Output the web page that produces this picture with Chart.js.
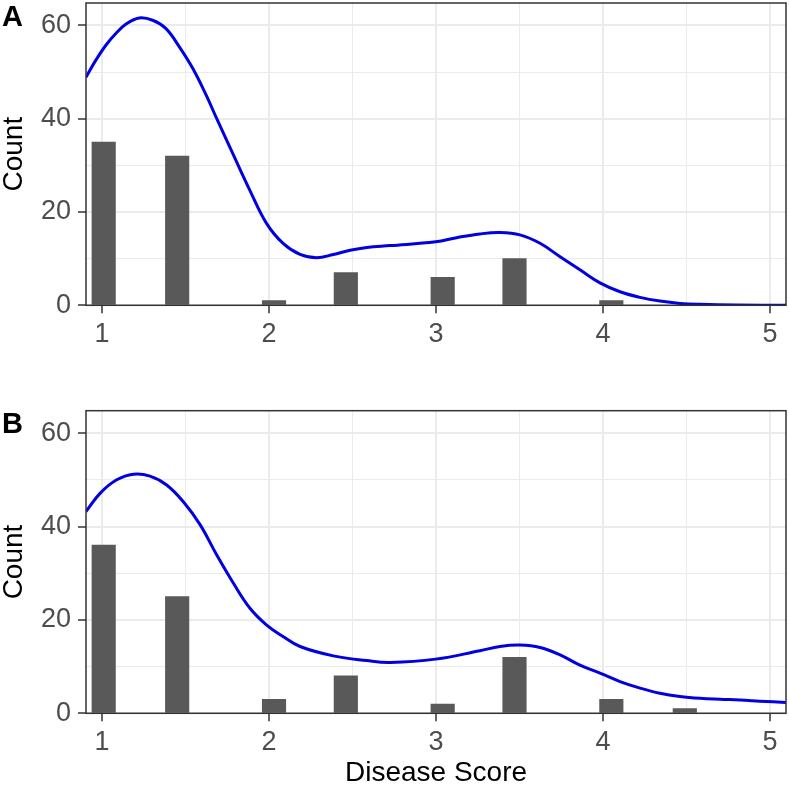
<!DOCTYPE html>
<html>
<head>
<meta charset="utf-8">
<script src="https://cdn.jsdelivr.net/npm/chart.js@4"></script>
<style>
  body { margin: 0; background: #fff; width: 789px; height: 788px; position: relative; overflow: hidden; }
  .panell { position: absolute; left: 0; width: 789px; }
</style>
</head>
<body>
<div class="panell" style="top:0;height:355px"><canvas id="grafA"></canvas></div>
<div class="panell" style="top:365px;height:423px"><canvas id="grafB"></canvas></div>
<script>
// eixos
const xTicks = [1, 1.5, 2, 2.5, 3, 3.5, 4, 4.5, 5];
const xLabels = [1, 2, 3, 4, 5];
const yTicks = [0, 10, 20, 30, 40, 50, 60];
const yLabels = [0, 20, 40, 60];

// histograma A i B
const binsA = [1.01, 1.45, 2.03, 2.46, 3.04, 3.47, 4.05];
const countsA = [35, 32, 1, 7, 6, 10, 1];
const binsB = [1.01, 1.45, 2.03, 2.46, 3.04, 3.47, 4.05, 4.49];
const countsB = [36, 25, 3, 8, 2, 12, 3, 1];

// corba de densitat (escalada a comptes)
const densXA = [0.904, 0.964, 1.024, 1.084, 1.144, 1.223, 1.303, 1.383, 1.463, 1.543, 1.623, 1.687, 1.786, 1.886, 1.986, 2.086, 2.186, 2.285, 2.385, 2.485, 2.585, 2.725, 2.998, 3.124, 3.263, 3.383, 3.503, 3.623, 3.743, 3.862, 3.982, 4.102, 4.222, 4.341, 4.461, 4.581, 4.8, 5.096];
const densYA = [48.9, 52.6, 55.8, 58.3, 60.3, 61.6, 61.1, 59.3, 55.4, 50.8, 45.1, 40.0, 32.3, 24.6, 17.5, 13.2, 10.9, 10.2, 10.9, 11.8, 12.4, 12.8, 13.6, 14.5, 15.3, 15.6, 15.1, 13.3, 10.4, 7.6, 4.8, 2.9, 1.7, 0.9, 0.4, 0.2, 0.05, 0.0];
const densXB = [0.904, 0.988, 1.088, 1.188, 1.287, 1.387, 1.487, 1.587, 1.687, 1.786, 1.886, 1.986, 2.086, 2.186, 2.385, 2.585, 2.725, 2.998, 3.263, 3.383, 3.503, 3.623, 3.743, 3.862, 3.982, 4.102, 4.222, 4.341, 4.461, 4.581, 4.701, 4.82, 4.94, 5.096];
const densYB = [43.2, 47.1, 50.0, 51.2, 50.8, 48.9, 45.3, 40.4, 33.9, 27.9, 22.5, 18.9, 16.4, 14.3, 12.3, 11.3, 10.9, 11.6, 13.4, 14.3, 14.6, 14.1, 12.5, 10.3, 8.6, 6.8, 5.4, 4.3, 3.6, 3.2, 3.0, 2.85, 2.6, 2.3];

const FONT = '"Liberation Sans", Arial, sans-serif';

// marc del panell i lletra
const vora = {
  id: 'vora',
  afterDatasetsDraw(chart, args, o) {
    const { ctx, chartArea: a } = chart;
    ctx.save();
    ctx.strokeStyle = '#333333';
    ctx.lineWidth = 1.5;
    ctx.strokeRect(a.left, a.top, a.right - a.left, a.bottom - a.top);
    ctx.font = 'bold 29px ' + FONT;
    ctx.fillStyle = '#000';
    ctx.textBaseline = 'alphabetic';
    ctx.fillText(o.lletra, 2, o.y);
    ctx.restore();
  }
};

const esMajor = (c, llista) => !!(c.tick && llista.includes(c.tick.value));

function pintarPanell(id, lletra, lletraY, bins, counts, dx, dy, padTop, xAlt, titolX) {
  const ctx = document.getElementById(id).getContext('2d');
  new Chart(ctx, {
    type: 'bar',
    data: {
      datasets: [{
        type: 'line',
        data: dx.map((x, i) => ({ x: x, y: dy[i] })),
        borderColor: '#0000e0',
        borderWidth: 3,
        pointRadius: 0,
        tension: 0.4,
        fill: false,
        order: 0
      }, {
        type: 'bar',
        data: bins.map((x, i) => ({ x: x, y: counts[i] })),
        backgroundColor: '#595959',
        barThickness: 23.5,
        order: 1
      }]
    },
    options: {
      responsive: true,
      maintainAspectRatio: false,
      animation: false,
      layout: { padding: { top: padTop, right: 3, left: 0, bottom: 0 } },
      plugins: {
        legend: { display: false },
        tooltip: { enabled: false },
        vora: { lletra: lletra, y: lletraY }
      },
      scales: {
        x: {
          type: 'linear',
          min: 0.904,
          max: 5.096,
          offset: false,
          afterBuildTicks: s => { s.ticks = xTicks.map(v => ({ value: v })); },
          afterFit: s => { s.height = xAlt; s.paddingLeft = 0; s.paddingRight = 0; },
          ticks: {
            autoSkip: false,
            maxRotation: 0,
            padding: 5,
            color: '#4d4d4d',
            font: { family: FONT, size: 27 },
            callback: v => xLabels.includes(v) ? String(v) : ''
          },
          grid: {
            offset: false,
            color: '#ebebeb',
            lineWidth: c => esMajor(c, xLabels) ? 2 : 1,
            tickLength: 8,
            tickWidth: 1.5,
            tickColor: c => esMajor(c, xLabels) ? '#333333' : 'rgba(0,0,0,0)'
          },
          border: { display: false },
          title: {
            display: titolX,
            text: 'Disease Score',
            color: '#000',
            font: { family: FONT, size: 28, lineHeight: 1 },
            padding: { top: 0, bottom: 1 }
          }
        },
        y: {
          min: 0,
          max: 64.8,
          afterBuildTicks: s => { s.ticks = yTicks.map(v => ({ value: v })); },
          afterFit: s => { s.width = 86; s.paddingTop = 0; s.paddingBottom = 0; },
          ticks: {
            padding: 7,
            color: '#4d4d4d',
            font: { family: FONT, size: 27 },
            callback: v => yLabels.includes(v) ? String(v) : ''
          },
          grid: {
            color: '#ebebeb',
            lineWidth: c => esMajor(c, yLabels) ? 2 : 1,
            tickLength: 8,
            tickWidth: 1.5,
            tickColor: c => esMajor(c, yLabels) ? '#333333' : 'rgba(0,0,0,0)'
          },
          border: { display: false },
          title: {
            display: true,
            text: 'Count',
            color: '#000',
            font: { family: FONT, size: 28, lineHeight: 1 },
            padding: 0
          }
        }
      }
    },
    plugins: [vora]
  });
}

pintarPanell('grafA', 'A', 26, binsA, countsA, densXA, densYA, 3, 49.7, false);
pintarPanell('grafB', 'B', 68, binsB, countsB, densXB, densYB, 45.7, 74.7, true);
</script>
</body>
</html>
